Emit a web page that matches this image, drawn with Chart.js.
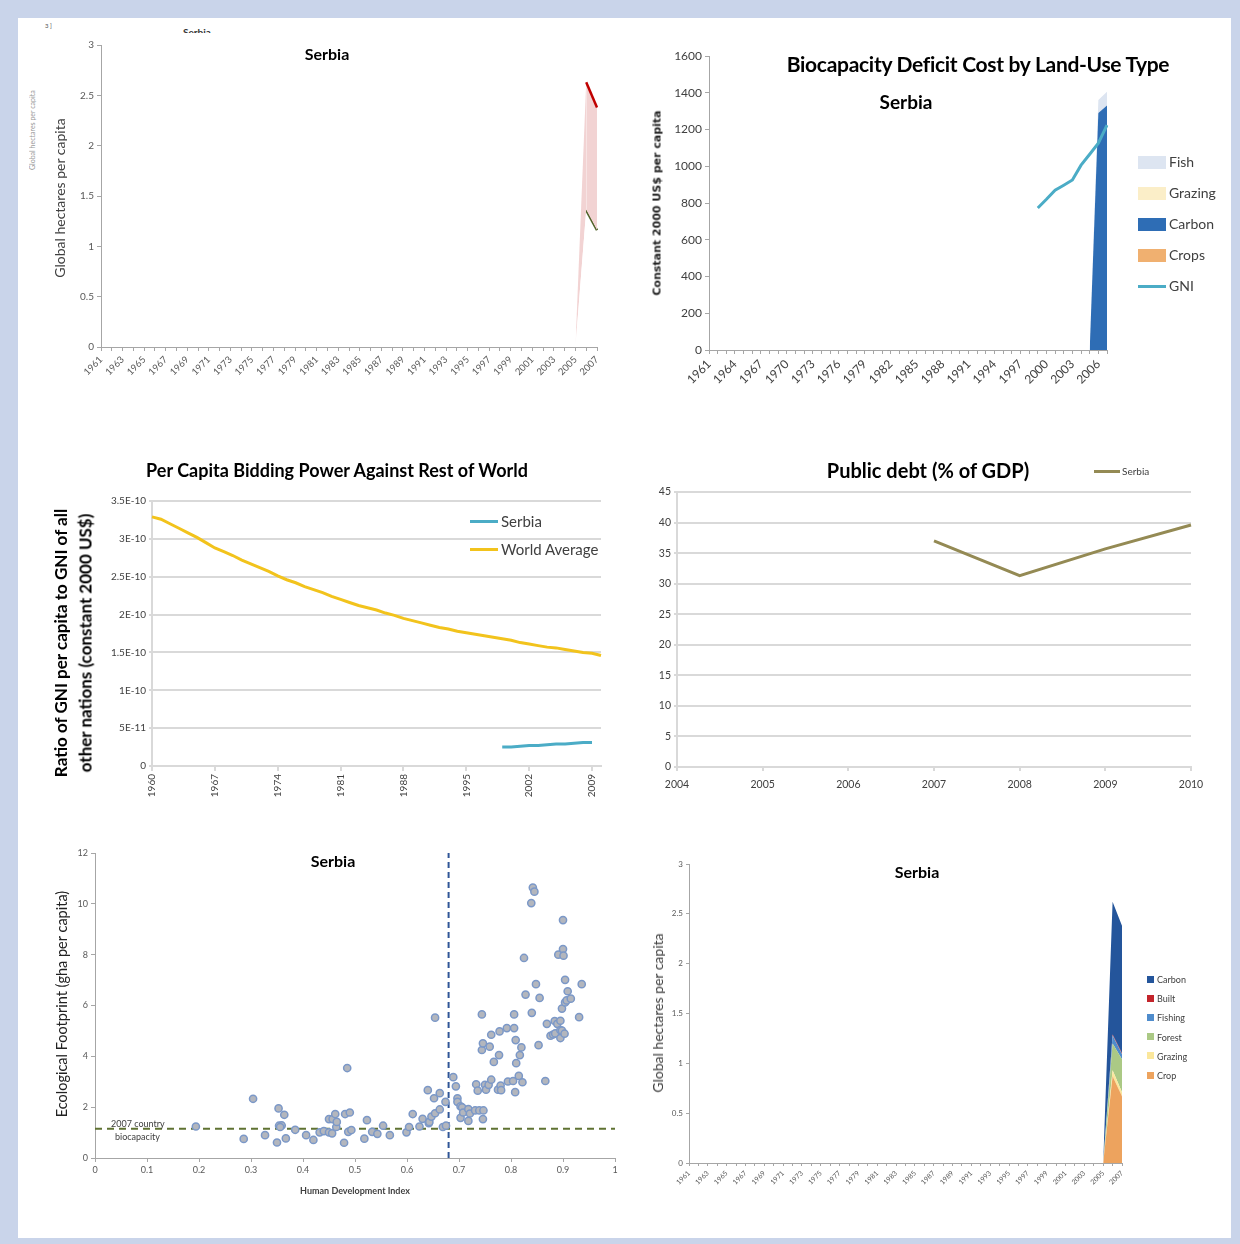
<!DOCTYPE html>
<html>
<head>
<meta charset="utf-8">
<title>Serbia – footprint and deficit charts</title>
<script src="https://cdn.jsdelivr.net/npm/chart.js@4.4.1/dist/chart.umd.min.js"></script>
<style>
  html, body { margin: 0; padding: 0; }
  body { width: 1240px; height: 1244px; background: #c9d4ea; position: relative; overflow: hidden;
         font-family: Lato, "Liberation Sans", sans-serif; color: #000; }
  #sheet { position: absolute; left: 18px; top: 18px; width: 1213px; height: 1220px; background: #fff; }
  canvas { position: absolute; }
  .lbl { position: absolute; white-space: nowrap; line-height: 1; }
  .c { transform: translate(-50%, -50%); }
  .v { transform: translate(-50%, -50%) rotate(-90deg); }
  .b { font-weight: 700; }
  .sw { position: absolute; }
</style>
</head>
<body>
<div id="sheet"></div>

<!-- stray bits left over from the pasted slide -->
<div class="lbl" style="left:45px;top:23px;font-size:6px;color:#555">3 ]</div>
<div style="position:absolute;left:183px;top:27px;width:40px;height:6px;overflow:hidden">
  <div class="lbl b" style="left:0;top:0;font-size:10px;color:#333">Serbia</div>
</div>
<div style="position:absolute;left:29px;top:75px;width:10px;height:95px;overflow:hidden">
  <div class="lbl" style="left:0;top:95px;font-size:7px;color:#999;transform-origin:0 0;transform:rotate(-90deg)">Global hectares per capita</div>
</div>

<canvas id="c1" width="590" height="400" style="left:20px;top:22px"></canvas>
<canvas id="c2" width="605" height="400" style="left:625px;top:30px"></canvas>
<canvas id="c3" width="600" height="380" style="left:20px;top:440px"></canvas>
<canvas id="c4" width="605" height="370" style="left:625px;top:440px"></canvas>
<canvas id="c5" width="605" height="380" style="left:20px;top:835px"></canvas>
<canvas id="c6" width="605" height="380" style="left:625px;top:840px"></canvas>

<!-- titles, axis titles and legends -->
<div class="lbl c b" style="left:327px;top:54px;font-size:16px">Serbia</div>
<div class="lbl v" style="left:60px;top:198px;font-size:14px;color:#404040">Global hectares per capita</div>

<div class="lbl c b" style="left:978px;top:63px;font-size:21px;letter-spacing:-0.3px">Biocapacity Deficit Cost by Land-Use Type</div>
<div class="lbl c b" style="left:906px;top:101px;font-size:19px">Serbia</div>
<div class="lbl v b" style="left:657px;top:203px;font-size:11px;color:#222;font-family:'DejaVu Sans',sans-serif">Constant 2000 US$ per capita</div>
<div id="legend2"></div>

<div class="lbl c b" style="left:337px;top:470px;font-size:18px">Per Capita Bidding Power Against Rest of World</div>
<div class="lbl v b" style="left:60px;top:643px;font-size:17px">Ratio of GNI per capita to GNI of all</div>
<div class="lbl v b" style="left:85px;top:643px;font-size:17px">other nations (constant 2000 US$)</div>
<div id="legend3"></div>

<div class="lbl c b" style="left:928px;top:470px;font-size:20px">Public debt (% of GDP)</div>
<div id="legend4"></div>

<div class="lbl c b" style="left:333px;top:861px;font-size:16px">Serbia</div>
<div class="lbl v" style="left:62px;top:1004px;font-size:14.5px;color:#222">Ecological Footprint (gha per capita)</div>
<div class="lbl c b" style="left:355px;top:1190px;font-size:9px;color:#404040">Human Development Index</div>
<div class="lbl" style="left:111px;top:1119px;font-size:9px;color:#404040">2007 country</div>
<div class="lbl" style="left:115px;top:1132px;font-size:9px;color:#404040">biocapacity</div>

<div class="lbl c b" style="left:917px;top:872px;font-size:16px">Serbia</div>
<div class="lbl v" style="left:658px;top:1013px;font-size:14px;color:#404040">Global hectares per capita</div>
<div id="legend6"></div>

<script>
// ---- data ----
// footprint vs biocapacity, gha per capita
const deficitYears = [2005, 2006, 2007];
const footprintTotal = [0, 2.63, 2.38];
const biocapacityTotal = [0, 1.36, 1.16];

// biocapacity deficit cost, constant 2000 US$ per capita
const costYears = [2005, 2006, 2007];
const costCrops = [0, 0, 0];
const costCarbon = [0, 1290, 1330];
const costGrazing = [0, 0, 0];
const costFish = [0, 70, 75];
const gniYears = [1999, 2000, 2001, 2002, 2003, 2004, 2005, 2006, 2007];
const gniPerCapita = [773, 820, 870, 897, 925, 1006, 1065, 1126, 1224];

// bidding power, ratio in units of 1E-10
const worldAvgE10 = [3.29, 3.26, 3.20, 3.14, 3.08, 3.02, 2.95, 2.88, 2.83, 2.78,
  2.72, 2.67, 2.62, 2.57, 2.51, 2.46, 2.42, 2.37, 2.33, 2.29,
  2.24, 2.20, 2.16, 2.12, 2.09, 2.06, 2.02, 1.99, 1.95, 1.92,
  1.89, 1.86, 1.83, 1.81, 1.78, 1.76, 1.74, 1.72, 1.70, 1.68,
  1.66, 1.63, 1.61, 1.59, 1.57, 1.56, 1.54, 1.52, 1.50, 1.49, 1.46];
const serbiaBidYears = [1999, 2000, 2001, 2002, 2003, 2004, 2005, 2006, 2007, 2008, 2009];
const serbiaBidE10 = [0.25, 0.25, 0.26, 0.27, 0.27, 0.28, 0.29, 0.29, 0.30, 0.31, 0.31];
const bidTickLabels = ['0', '5E-11', '1E-10', '1.5E-10', '2E-10', '2.5E-10', '3E-10', '3.5E-10'];

// public debt, % of GDP
const debtYears = ['2004', '2005', '2006', '2007', '2008', '2009', '2010'];
const publicDebt = [null, null, null, 37.0, 31.3, 35.7, 39.6];

// footprint vs HDI, one point per nation
const hdi = [0.194, 0.286, 0.304, 0.327, 0.350, 0.353, 0.354, 0.359, 0.356, 0.364,
  0.367, 0.385, 0.406, 0.420, 0.432, 0.440, 0.450, 0.450, 0.456, 0.457,
  0.462, 0.464, 0.465, 0.479, 0.481, 0.485, 0.487, 0.490, 0.493, 0.518,
  0.523, 0.533, 0.543, 0.554, 0.567, 0.599, 0.604, 0.611, 0.624, 0.630,
  0.640, 0.642, 0.643, 0.647, 0.652, 0.654, 0.654, 0.663, 0.663, 0.669,
  0.674, 0.675, 0.689, 0.694, 0.697, 0.697, 0.703, 0.706, 0.703, 0.708,
  0.718, 0.718, 0.721, 0.731, 0.733, 0.736, 0.739, 0.744, 0.744, 0.746,
  0.746, 0.747, 0.750, 0.752, 0.757, 0.759, 0.762, 0.762, 0.767, 0.775,
  0.777, 0.778, 0.780, 0.781, 0.792, 0.794, 0.804, 0.806, 0.806, 0.808,
  0.809, 0.810, 0.815, 0.817, 0.820, 0.822, 0.825, 0.828, 0.839, 0.840,
  0.842, 0.845, 0.848, 0.853, 0.855, 0.866, 0.869, 0.876, 0.881, 0.884,
  0.885, 0.889, 0.891, 0.895, 0.895, 0.895, 0.898, 0.898, 0.900, 0.900,
  0.901, 0.903, 0.904, 0.904, 0.907, 0.909, 0.915, 0.931, 0.936];
const footprintGha = [1.24, 0.75, 2.33, 0.90, 0.61, 1.95, 1.27, 1.28, 1.22, 1.70,
  0.77, 1.11, 0.90, 0.71, 1.01, 1.06, 1.53, 1.01, 0.97, 1.53,
  1.73, 1.22, 1.42, 0.60, 1.73, 3.54, 1.03, 1.79, 1.10, 0.76,
  1.49, 1.03, 0.95, 1.27, 0.90, 1.01, 1.22, 1.73, 1.24, 1.54,
  2.67, 1.37, 1.42, 1.63, 2.35, 5.52, 1.76, 2.55, 1.91, 1.22,
  2.21, 1.27, 3.18, 2.82, 2.35, 2.21, 2.03, 1.99, 1.58, 1.79,
  1.92, 1.46, 1.75, 1.87, 2.90, 2.65, 1.87, 5.65, 4.25, 4.51,
  1.53, 1.87, 2.88, 2.69, 2.88, 4.38, 4.85, 3.08, 3.78, 2.69,
  4.05, 4.98, 2.85, 2.67, 5.11, 3.01, 3.03, 5.65, 5.11, 2.59,
  4.64, 3.73, 3.23, 4.05, 4.35, 2.98, 7.87, 6.43, 10.03, 5.71,
  10.64, 10.48, 6.84, 4.44, 6.30, 3.03, 5.28, 4.81, 4.86, 5.39,
  4.90, 5.28, 8.00, 5.03, 5.40, 4.72, 5.88, 5.01, 9.36, 8.22,
  7.96, 4.89, 7.01, 6.12, 6.20, 6.56, 6.27, 5.54, 6.84];
const hdiThreshold = 0.68;
const countryBiocapacity = 1.15;

// footprint by land-use type, gha per capita
const landYears = [2005, 2006, 2007];
const landCrop = [0, 0.87, 0.67];
const landGrazing = [0, 0.06, 0.04];
const landForest = [0, 0.27, 0.33];
const landFishing = [0, 0.08, 0.05];
const landBuilt = [0, 0.01, 0.01];
const landCarbon = [0, 1.33, 1.28];

// ---- helpers ----
const AXIS = '#a6a6a6';
const GRID = '#d9d9d9';
const NONE = 'rgba(0,0,0,0)';

function range(a, b) {
    const out = [];
    for (let y = a; y <= b; y++) out.push(y);
    return out;
}
// put a short series onto a longer list of category years (nulls elsewhere)
function placeOn(labels, years, values) {
    return labels.map(l => {
        const i = years.indexOf(l);
        return i < 0 ? null : values[i];
    });
}
const fitWidth = w => s => { s.width = w; };
const fitHeight = h => s => { s.height = h; };
const plainNum = v => String(Number(Number(v).toFixed(2)));
// hide the line where a series climbs up from its zero start
const fromZero = color => ({ borderColor: ctx => ctx.p0.parsed.y === 0 ? NONE : color });

Chart.defaults.font.family = 'Lato, "Liberation Sans", sans-serif';
Chart.defaults.color = '#595959';
Chart.defaults.animation = false;
Chart.defaults.responsive = false;
Chart.defaults.plugins.legend.display = false;
Chart.defaults.plugins.tooltip.enabled = false;
Chart.defaults.elements.point.radius = 0;
Chart.defaults.elements.line.tension = 0;

const hectareYears = range(1961, 2007);
const costAxisYears = range(1961, 2007);
const bidYears = range(1960, 2010);

// 1. footprint vs biocapacity
new Chart(document.getElementById('c1'), {
    type: 'line',
    data: {
        labels: hectareYears,
        datasets: [
            {
                data: placeOn(hectareYears, deficitYears, footprintTotal),
                borderColor: '#c00000', borderWidth: 2.5,
                segment: fromZero('#c00000'),
                fill: { target: 1, above: '#f2d3d3', below: NONE }
            },
            {
                data: placeOn(hectareYears, deficitYears, biocapacityTotal),
                borderColor: '#4f6228', borderWidth: 2.5,
                segment: fromZero('#4f6228'),
                fill: false
            }
        ]
    },
    options: {
        layout: { padding: { left: 20, right: 13, top: 23, bottom: 30 } },
        scales: {
            x: {
                offset: false,
                grid: { drawOnChartArea: false, tickLength: 4, color: AXIS },
                border: { color: AXIS },
                ticks: {
                    autoSkip: false, minRotation: 45, maxRotation: 45, font: { size: 9.5 },
                    callback: (v, i) => i % 2 === 0 ? String(hectareYears[i]) : ''
                },
                afterFit: fitHeight(45)
            },
            y: {
                min: 0, max: 3,
                grid: { drawOnChartArea: false, tickLength: 4, color: AXIS },
                border: { color: AXIS },
                ticks: { stepSize: 0.5, font: { size: 10 }, callback: plainNum },
                afterFit: fitWidth(61)
            }
        }
    }
});

// 2. biocapacity deficit cost (stacked areas) with GNI line on top
const costArea = (label, values, color, fill) => ({
    label, data: placeOn(costAxisYears, costYears, values), stack: 'cost',
    backgroundColor: color, borderWidth: 0, borderColor: NONE, fill
});
new Chart(document.getElementById('c2'), {
    type: 'line',
    data: {
        labels: costAxisYears,
        datasets: [
            costArea('Crops', costCrops, '#f0b070', 'origin'),
            costArea('Carbon', costCarbon, '#2e6db5', '-1'),
            costArea('Grazing', costGrazing, '#fbeec8', '-1'),
            costArea('Fish', costFish, '#dde5f1', '-1'),
            {
                label: 'GNI', stack: 'gni', fill: false, order: -1,
                data: placeOn(costAxisYears, gniYears, gniPerCapita),
                borderColor: '#4bacc6', borderWidth: 3
            }
        ]
    },
    options: {
        layout: { padding: { left: 40, right: 123, top: 26, bottom: 25 } },
        scales: {
            x: {
                offset: false,
                grid: { drawOnChartArea: false, tickLength: 4, color: AXIS },
                border: { color: AXIS },
                ticks: {
                    autoSkip: false, minRotation: 45, maxRotation: 45, color: '#404040', font: { size: 12 },
                    callback: (v, i) => i % 3 === 0 ? String(costAxisYears[i]) : ''
                },
                afterFit: fitHeight(55)
            },
            y: {
                stacked: true, min: 0, max: 1600,
                grid: { drawOnChartArea: false, tickLength: 4, color: AXIS },
                border: { color: AXIS },
                ticks: { stepSize: 200, color: '#404040', font: { size: 12 }, callback: v => String(v) },
                afterFit: fitWidth(44)
            }
        }
    }
});

// 3. bidding power
new Chart(document.getElementById('c3'), {
    type: 'line',
    data: {
        labels: bidYears,
        datasets: [
            { label: 'Serbia', data: placeOn(bidYears, serbiaBidYears, serbiaBidE10), borderColor: '#4bacc6', borderWidth: 3 },
            { label: 'World Average', data: worldAvgE10, borderColor: '#f2c31c', borderWidth: 3 }
        ]
    },
    options: {
        layout: { padding: { left: 80, right: 19, top: 61, bottom: 14 } },
        scales: {
            x: {
                offset: false,
                grid: { drawOnChartArea: false, tickLength: 5, color: GRID, lineWidth: 2 },
                border: { color: GRID, width: 2 },
                ticks: {
                    autoSkip: false, minRotation: 90, maxRotation: 90, color: '#404040', font: { size: 10 },
                    callback: (v, i) => i % 7 === 0 ? String(bidYears[i]) : null
                },
                afterFit: fitHeight(40)
            },
            y: {
                min: 0, max: 3.5,
                grid: { color: GRID, lineWidth: 2, tickLength: 3 },
                border: { color: GRID, width: 2 },
                ticks: { stepSize: 0.5, color: '#404040', font: { size: 10 }, callback: (v, i) => bidTickLabels[i] },
                afterFit: fitWidth(52)
            }
        }
    }
});

// 4. public debt
new Chart(document.getElementById('c4'), {
    type: 'line',
    data: {
        labels: debtYears,
        datasets: [{ label: 'Serbia', data: publicDebt, borderColor: '#948a54', borderWidth: 3 }]
    },
    options: {
        layout: { padding: { left: 20, right: 39, top: 52, bottom: 18 } },
        scales: {
            x: {
                offset: false,
                grid: { drawOnChartArea: false, tickLength: 4, color: GRID, lineWidth: 2 },
                border: { color: GRID, width: 2 },
                ticks: { color: '#404040', font: { size: 10.5 }, maxRotation: 0, padding: 7 },
                afterFit: fitHeight(25)
            },
            y: {
                min: 0, max: 45,
                grid: { color: GRID, lineWidth: 2, tickLength: 3 },
                border: { color: GRID, width: 2 },
                ticks: { stepSize: 5, color: '#404040', font: { size: 10.5 } },
                afterFit: fitWidth(32)
            }
        }
    }
});

// 5. footprint vs HDI scatter
new Chart(document.getElementById('c5'), {
    type: 'scatter',
    data: {
        datasets: [
            {
                data: hdi.map((x, i) => ({ x, y: footprintGha[i] })),
                pointRadius: 3.6, backgroundColor: '#b3b6bd', borderColor: '#7b98c8', borderWidth: 1.5
            },
            {
                data: [{ x: hdiThreshold, y: 0 }, { x: hdiThreshold, y: 12 }],
                showLine: true, pointRadius: 0, borderColor: '#2f5597', borderWidth: 2, borderDash: [6, 4]
            },
            {
                data: [{ x: 0, y: countryBiocapacity }, { x: 1, y: countryBiocapacity }],
                showLine: true, pointRadius: 0, borderColor: '#5f7232', borderWidth: 2, borderDash: [7, 5]
            }
        ]
    },
    options: {
        layout: { padding: { left: 40, right: 10, top: 18, bottom: 35 } },
        scales: {
            x: {
                type: 'linear', min: 0, max: 1,
                grid: { drawOnChartArea: false, tickLength: 4, color: AXIS },
                border: { color: AXIS },
                ticks: { stepSize: 0.1, font: { size: 9 }, callback: plainNum },
                afterFit: fitHeight(22)
            },
            y: {
                min: 0, max: 12,
                grid: { drawOnChartArea: false, tickLength: 4, color: AXIS },
                border: { color: AXIS },
                ticks: { stepSize: 2, font: { size: 9 } },
                afterFit: fitWidth(35)
            }
        }
    }
});

// 6. footprint by land-use type (stacked areas)
const landArea = (label, values, color, fill) => ({
    label, data: placeOn(hectareYears, landYears, values),
    backgroundColor: color, borderWidth: 0, borderColor: NONE, fill
});
const landSeries = [
    landArea('Crop', landCrop, '#eda35e', 'origin'),
    landArea('Grazing', landGrazing, '#fbe79c', '-1'),
    landArea('Forest', landForest, '#abc985', '-1'),
    landArea('Fishing', landFishing, '#4f8ccc', '-1'),
    landArea('Built', landBuilt, '#c3242b', '-1'),
    landArea('Carbon', landCarbon, '#24559b', '-1')
];
new Chart(document.getElementById('c6'), {
    type: 'line',
    data: { labels: hectareYears, datasets: landSeries },
    options: {
        layout: { padding: { left: 30, right: 108, top: 24, bottom: 17 } },
        scales: {
            x: {
                offset: false,
                grid: { drawOnChartArea: false, tickLength: 3, color: AXIS },
                border: { color: AXIS },
                ticks: {
                    autoSkip: false, minRotation: 45, maxRotation: 45, font: { size: 7 },
                    callback: (v, i) => i % 2 === 0 ? String(hectareYears[i]) : ''
                },
                afterFit: fitHeight(40)
            },
            y: {
                stacked: true, min: 0, max: 3,
                grid: { drawOnChartArea: false, tickLength: 3, color: AXIS },
                border: { color: AXIS },
                ticks: { stepSize: 0.5, font: { size: 8 }, callback: plainNum },
                afterFit: fitWidth(34)
            }
        }
    }
});

// ---- HTML legends ----
function addLegend(id, items) {
    const host = document.getElementById(id);
    items.forEach(it => {
        const sw = document.createElement('div');
        sw.className = 'sw';
        sw.style.cssText = `left:${it.x}px;top:${it.y - it.h / 2}px;width:${it.w}px;height:${it.h}px;background:${it.color}`;
        host.appendChild(sw);
        const tx = document.createElement('div');
        tx.className = 'lbl';
        tx.textContent = it.text;
        tx.style.cssText = `left:${it.x + it.w + it.gap}px;top:${it.y}px;font-size:${it.size}px;color:${it.ink || '#404040'};transform:translateY(-50%)`;
        host.appendChild(tx);
    });
}
addLegend('legend2', [
    { text: 'Fish', color: '#dde5f1', x: 1138, y: 162, w: 28, h: 13, gap: 3, size: 14 },
    { text: 'Grazing', color: '#fbeec8', x: 1138, y: 193, w: 28, h: 13, gap: 3, size: 14 },
    { text: 'Carbon', color: '#2e6db5', x: 1138, y: 224, w: 28, h: 13, gap: 3, size: 14 },
    { text: 'Crops', color: '#f0b070', x: 1138, y: 255, w: 28, h: 13, gap: 3, size: 14 },
    { text: 'GNI', color: '#4bacc6', x: 1138, y: 286, w: 28, h: 3, gap: 3, size: 14 }
]);
addLegend('legend3', [
    { text: 'Serbia', color: '#4bacc6', x: 470, y: 521, w: 28, h: 3, gap: 3, size: 15 },
    { text: 'World Average', color: '#f2c31c', x: 470, y: 549, w: 28, h: 3, gap: 3, size: 15 }
]);
addLegend('legend4', [
    { text: 'Serbia', color: '#948a54', x: 1094, y: 471, w: 26, h: 3, gap: 2, size: 10 }
]);
addLegend('legend6', landSeries.slice().reverse().map((d, i) => ({
    text: d.label, color: d.backgroundColor, x: 1147, y: 979 + i * 19.2, w: 7, h: 7, gap: 3, size: 9
})));
</script>
</body>
</html>
